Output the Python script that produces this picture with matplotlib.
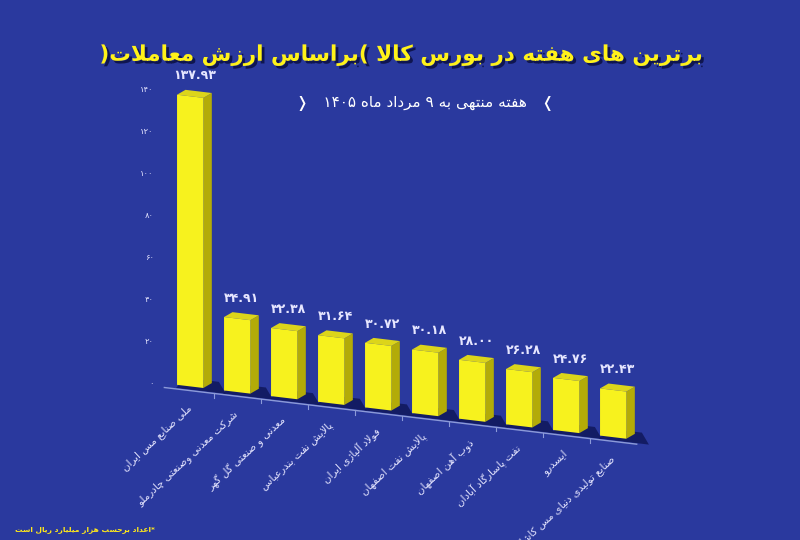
import re
import numpy as np
import matplotlib
matplotlib.use('Agg')
import matplotlib.pyplot as plt
from matplotlib import transforms as mtransforms
from matplotlib import patheffects as pe
from matplotlib import font_manager
from matplotlib.ft2font import FT2Font
from matplotlib.patches import Polygon, Rectangle

# Data
companies = [
    'ملی صنایع مس ایران',
    'شرکت معدنی وصنعتی چادرملو',
    'معدنی و صنعتی گل گهر',
    'پالایش نفت بندرعباس',
    'فولاد آلیاژی ایران',
    'پالایش نفت اصفهان',
    'ذوب آهن اصفهان',
    'نفت پاسارگاد آبادان',
    'ایسدرو',
    'صنایع تولیدی دنیای مس کاشان',
]
values = [137.93, 34.91, 32.38, 31.64, 30.72, 30.18, 28.00, 26.28, 24.76, 22.43]
y_ticks = [0, 20, 40, 60, 80, 100, 120, 140]

title = 'برترین های هفته در بورس کالا (براساس ارزش معاملات)'
subtitle = 'هفته منتهی به ۹ مرداد ماه ۱۴۰۵'
footnote = '*اعداد برحسب هزار میلیارد ریال است'

# --- minimal Persian shaping (matplotlib has no bidi / joining) ---
DUAL = {
    'ب': (0xFE8F, 0xFE90, 0xFE91, 0xFE92), 'پ': (0xFB56, 0xFB57, 0xFB58, 0xFB59),
    'ت': (0xFE95, 0xFE96, 0xFE97, 0xFE98), 'ث': (0xFE99, 0xFE9A, 0xFE9B, 0xFE9C),
    'ج': (0xFE9D, 0xFE9E, 0xFE9F, 0xFEA0), 'چ': (0xFB7A, 0xFB7B, 0xFB7C, 0xFB7D),
    'ح': (0xFEA1, 0xFEA2, 0xFEA3, 0xFEA4), 'خ': (0xFEA5, 0xFEA6, 0xFEA7, 0xFEA8),
    'س': (0xFEB1, 0xFEB2, 0xFEB3, 0xFEB4), 'ش': (0xFEB5, 0xFEB6, 0xFEB7, 0xFEB8),
    'ص': (0xFEB9, 0xFEBA, 0xFEBB, 0xFEBC), 'ض': (0xFEBD, 0xFEBE, 0xFEBF, 0xFEC0),
    'ط': (0xFEC1, 0xFEC2, 0xFEC3, 0xFEC4), 'ظ': (0xFEC5, 0xFEC6, 0xFEC7, 0xFEC8),
    'ع': (0xFEC9, 0xFECA, 0xFECB, 0xFECC), 'غ': (0xFECD, 0xFECE, 0xFECF, 0xFED0),
    'ف': (0xFED1, 0xFED2, 0xFED3, 0xFED4), 'ق': (0xFED5, 0xFED6, 0xFED7, 0xFED8),
    'ک': (0xFB8E, 0xFB8F, 0xFB90, 0xFB91), 'گ': (0xFB92, 0xFB93, 0xFB94, 0xFB95),
    'ل': (0xFEDD, 0xFEDE, 0xFEDF, 0xFEE0), 'م': (0xFEE1, 0xFEE2, 0xFEE3, 0xFEE4),
    'ن': (0xFEE5, 0xFEE6, 0xFEE7, 0xFEE8), 'ه': (0xFEE9, 0xFEEA, 0xFEEB, 0xFEEC),
    'ی': (0xFBFC, 0xFBFD, 0xFBFE, 0xFBFF),
}
RIGHT = {
    'ا': (0xFE8D, 0xFE8E), 'آ': (0xFE81, 0xFE82), 'د': (0xFEA9, 0xFEAA),
    'ذ': (0xFEAB, 0xFEAC), 'ر': (0xFEAD, 0xFEAE), 'ز': (0xFEAF, 0xFEB0),
    'ژ': (0xFB8A, 0xFB8B), 'و': (0xFEED, 0xFEEE),
}
# fallbacks if the font lacks the Persian presentation forms
FALLBACK = {
    'ی': (0xFEEF, 0xFEF0, 0xFEF3, 0xFEF4), 'ک': (0xFED9, 0xFEDA, 0xFEDB, 0xFEDC),
    'گ': (0xFED9, 0xFEDA, 0xFEDB, 0xFEDC), 'پ': (0xFE8F, 0xFE90, 0xFE91, 0xFE92),
    'چ': (0xFE9D, 0xFE9E, 0xFE9F, 0xFEA0), 'ژ': (0xFEAF, 0xFEB0),
}

def glyph_checker(weight):
    path = font_manager.findfont(font_manager.FontProperties(family='DejaVu Sans', weight=weight))
    ft = FT2Font(path)
    return lambda code: ft.get_char_index(code) != 0

def shape(s, has):
    out = []
    i = 0
    n = len(s)
    while i < n:
        c = s[i]
        prev = s[i - 1] if i > 0 else ''
        nxt = s[i + 1] if i + 1 < n else ''
        jp = prev in DUAL and (c in DUAL or c in RIGHT)
        if c == 'ل' and nxt in ('ا', 'آ'):
            lig = (0xFEFB, 0xFEFC) if nxt == 'ا' else (0xFEF5, 0xFEF6)
            out.append(chr(lig[1] if jp else lig[0]))
            i += 2
            continue
        if c in DUAL:
            jn = nxt in DUAL or nxt in RIGHT
            forms = DUAL[c]
            idx = 3 if (jp and jn) else 1 if jp else 2 if jn else 0
            code = forms[idx]
            if not has(code) and c in FALLBACK:
                code = FALLBACK[c][idx]
            out.append(chr(code))
        elif c in RIGHT:
            forms = RIGHT[c]
            idx = 1 if jp else 0
            code = forms[idx]
            if not has(code) and c in FALLBACK:
                code = FALLBACK[c][idx]
            out.append(chr(code))
        else:
            out.append(c)
        i += 1
    return ''.join(out)

NUM = r'[0-9\u06F0-\u06F9.]+'

def fa(s, weight='normal'):
    shaped = shape(s, glyph_checker(weight))
    tokens = re.findall(NUM + r'|[^0-9\u06F0-\u06F9.]+', shaped)
    return ''.join(t if re.fullmatch(NUM, t) else t[::-1] for t in reversed(tokens))

def fa_num(x):
    return x.translate(str.maketrans('0123456789', '۰۱۲۳۴۵۶۷۸۹'))

# --- figure ---
bg = '#2a399e'
bar_front = '#f7f21e'
bar_side = '#b3ab08'
bar_top = '#dcd51a'
txt_light = '#e6e6ff'

plt.rcParams['font.family'] = ['DejaVu Sans']
fig = plt.figure(figsize=(8, 5.4), dpi=100, facecolor=bg)
ax_left, ax_bottom, ax_w, ax_h = 0.2025, 0.2907, 0.611, 0.5648
ax = fig.add_axes([ax_left, ax_bottom, ax_w, ax_h])
ax.set_facecolor(bg)
ax.set_xlim(-0.6, 9.8)
ax.set_ylim(0, 145)
for s in ax.spines.values():
    s.set_visible(False)
ax.set_xticks([])
ax.set_yticks(y_ticks)
ax.set_yticklabels([fa_num(str(t)) for t in y_ticks], color=txt_light, fontsize=6)
ax.tick_params(axis='y', length=0, pad=6)

# perspective: the floor falls away to the right
x0, y0 = ax_left * 800, ax_bottom * 540
skew = mtransforms.Affine2D().translate(-x0, -y0).skew(0, np.arctan(-0.12)).translate(x0, y0)
T = ax.transData + skew

w = 0.56      # front face width (index units)
dx = 0.18     # depth offset x
dy = 2.8      # depth offset y (value units)
x = np.arange(len(values))

# floor line and separators
ax.plot([-0.55, 9.5], [-2, -2], color='#8c9ad8', lw=1, transform=T, clip_on=False)
for b in x[:-1] + 0.5:
    ax.plot([b, b], [-2, -4], color='#8c9ad8', lw=0.8, transform=T, clip_on=False)

for i, v in zip(x, values):
    l, r = i - w / 2, i + w / 2
    shadow = Polygon([(l - 0.02, -1.5), (r + dx + 0.3, -1.5), (r + dx + 0.15, dy + 1),
                      (l + dx, dy + 1)], closed=True, fc='#10175a', ec='none', alpha=0.85,
                     transform=T, clip_on=False, zorder=1)
    ax.add_patch(shadow)
    ax.add_patch(Polygon([(r, 0), (r + dx, dy), (r + dx, v + dy), (r, v)], closed=True,
                         fc=bar_side, ec='none', transform=T, clip_on=False, zorder=2))
    ax.add_patch(Polygon([(l, v), (l + dx, v + dy), (r + dx, v + dy), (r, v)], closed=True,
                         fc=bar_top, ec='none', transform=T, clip_on=False, zorder=2))
    ax.add_patch(Rectangle((l, 0), w, v, fc=bar_front, ec='none', transform=T,
                           clip_on=False, zorder=3))
    ax.text(i + dx / 2, v + dy + 4, fa_num(f'{v:.2f}'), color=txt_light, fontsize=9,
            fontweight='bold', ha='center', va='bottom', transform=T, clip_on=False)

for i, name in zip(x, companies):
    ax.text(i - 0.08, -8, fa(name), color=txt_light, fontsize=7.5, rotation=43,
            rotation_mode='anchor', ha='right', va='top', transform=T)

# titles
shadow_fx = [pe.SimplePatchShadow(offset=(2, -2), shadow_rgbFace='#0d1248', alpha=0.9), pe.Normal()]
fig.text(0.5, 0.898, fa(title, 'bold'), color='#fff21a', fontsize=15.5, fontweight='bold',
         ha='center', va='center', path_effects=shadow_fx)
fig.text(0.531, 0.809, '❭   ' + fa(subtitle) + '   ❬', color='white', fontsize=11,
         ha='center', va='center')
fig.text(0.194, 0.019, fa(footnote, 'bold'), color='#ffe81a', fontsize=5.4, fontweight='bold',
         ha='right', va='center')

fig.savefig('out.png', dpi=100, facecolor=bg)
